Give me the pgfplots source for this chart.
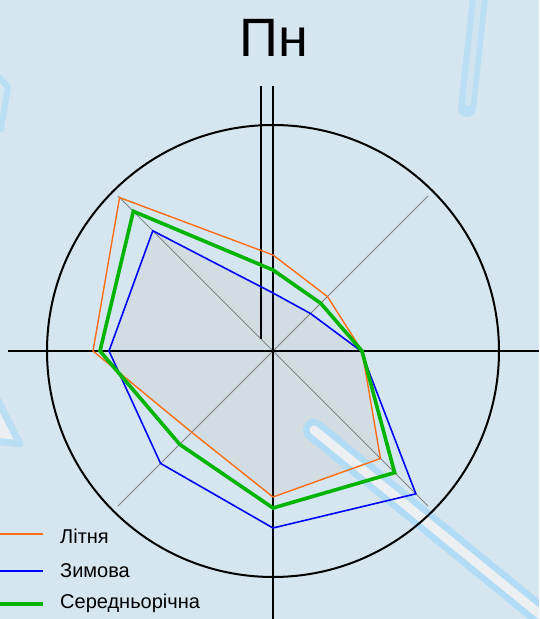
\documentclass[border=0pt]{standalone}
\usepackage{fontspec}
\setmainfont{Liberation Sans}
\usepackage{pgfplots}
\pgfplotsset{compat=1.18}
\definecolor{bg}{RGB}{213,230,240}
\definecolor{deco}{RGB}{178,219,245}
\definecolor{decoin}{RGB}{236,240,242}
\definecolor{fillc}{RGB}{210,220,227}
\definecolor{orangeL}{RGB}{255,110,20}
\definecolor{blueZ}{RGB}{0,0,255}
\definecolor{greenS}{RGB}{0,180,0}
\definecolor{decoA}{RGB}{186,222,244}
\definecolor{decoB}{RGB}{208,228,240}
\begin{document}
\begin{tikzpicture}[x=1pt,y=1pt]
\useasboundingbox (0,0) rectangle (539,619);
\fill[bg] (0,0) rectangle (539,619);
\begin{scope}
\clip (0,0) rectangle (539,619);
% background decorations (pixel (px,py) -> (px,619-py))
\draw[decoA, line width=18, line cap=round] (480,630) -- (467,511);
\draw[decoB, line width=6, line cap=round] (480,630) -- (468,516);
\draw[decoA, line width=6, line cap=round, line join=round] (-5,546) -- (8,532) -- (4,508) -- (1,490);
\draw[decoA, line width=7, line join=round, fill=decoin] (-6,226) -- (20,175) -- (-6,178) -- cycle;
\end{scope}
\node[anchor=base, font=\fontsize{54}{60}\selectfont] at (274,562) {Пн};
\begin{axis}[
  at={(0,0)}, anchor=south west,
  scale only axis, width=539pt, height=619pt,
  xmin=-273, xmax=266, ymin=-268, ymax=351,
  hide axis, clip=false,
]
% common area (inside all polygons)
\addplot[fill=fillc, draw=none, data cs=polar, forget plot] coordinates {
  (90,58) (45,53) (0,88) (-45,152) (-90,146) (-135,115) (-172.2,155.8) (180,164) (135,170) (90,58)};
% background stroke decoration (drawn over the shaded area, under the grid)
\begin{scope}
\clip (axis cs:-273,-268) rectangle (axis cs:266,351);
\draw[deco, line width=22pt, line cap=round] (axis cs:41,-79) -- (axis cs:297,-288);
\draw[decoin, line width=9pt, line cap=round] (axis cs:41,-79) -- (axis cs:297,-288);
\end{scope}
% grid
\draw[gray, line width=1pt] (axis cs:-155,-155) -- (axis cs:155,155);
\draw[gray, line width=1pt] (axis cs:-155,155) -- (axis cs:155,-155);
\draw[black, line width=2pt] (axis cs:0,0) circle[radius=226pt];
\draw[black, line width=2pt] (axis cs:-265,0) -- (axis cs:266,0);
\draw[black, line width=2pt] (axis cs:0,265) -- (axis cs:0,-268);
\draw[black, line width=2pt] (axis cs:-12,265) -- (axis cs:-12,12);
% series: Літня, Зимова, Середньорічна
\addplot[orangeL, line width=1.4pt, data cs=polar] coordinates {
  (90,96) (45,77) (0,89) (-45,152) (-90,146) (-135,115) (180,180) (135,217) (90,96)};
\addplot[blueZ, line width=1.6pt, data cs=polar] coordinates {
  (90,58) (45,53) (0,88) (-45,202) (-90,177) (-135,159) (180,164) (135,170) (90,58)};
\addplot[greenS, line width=3.6pt, data cs=polar] coordinates {
  (90,81) (45,67.5) (0,89) (-45,172) (-90,157) (-135,132) (180,173) (135,197.5) (90,81)};
\end{axis}
% legend
\fill[fill={rgb,255:red,255;green,110;blue,20}] (0,84) rectangle (43,85.6);
\node[anchor=base west, inner sep=0pt, font=\fontsize{20}{24}\selectfont] at (60,75) {Літня};
\fill[fill=blueZ] (0,47.2) rectangle (43,48.8);
\node[anchor=base west, inner sep=0pt, font=\fontsize{20}{24}\selectfont] at (60,41) {Зимова};
\fill[fill=greenS] (0,12.9) rectangle (43,16.5);
\node[anchor=base west, inner sep=0pt, font=\fontsize{20}{24}\selectfont] at (60,10) {Середньорічна};
\end{tikzpicture}
\end{document}
